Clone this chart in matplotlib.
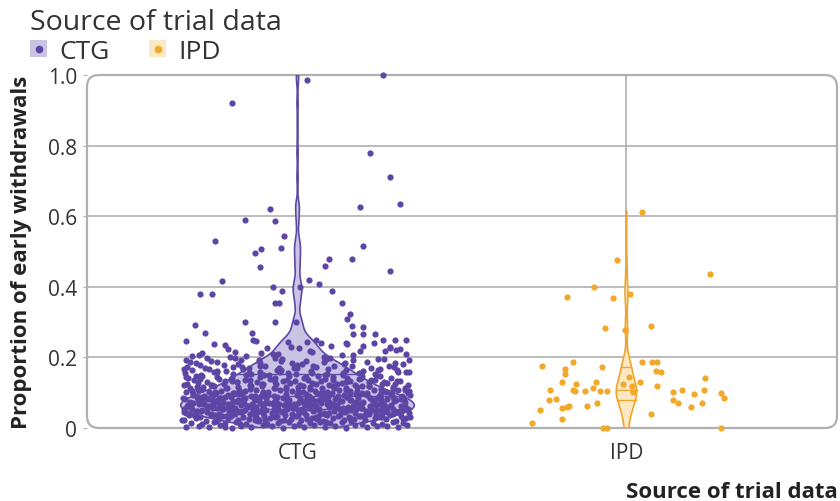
import numpy as np
import matplotlib
matplotlib.use("Agg")
import matplotlib.pyplot as plt
from matplotlib.patches import FancyBboxPatch, Patch
from matplotlib.lines import Line2D
from matplotlib.legend_handler import HandlerTuple

plt.rcParams['font.family'] = ['Open Sans', 'DejaVu Sans']

categories = ['CTG', 'IPD']
title_txt = 'Source of trial data'
ylab = 'Proportion of early withdrawals'

# proportions (x1000), with the horizontal jitter of each dot (x1000)
ctg_y = np.array([
    2, 7, 4, 9, 1, 6, 3, 8, 5, 0, 7, 2, 9, 4, 6, 1, 8, 3, 5, 7, 2, 9, 4,
    14, 11, 18, 13, 16, 10, 19, 12, 15, 17, 11, 14, 18, 13, 16, 19, 10, 15, 12, 17, 14, 11, 18,
    23, 27, 21, 25, 29, 22, 26, 24, 28, 20, 25, 23, 27, 21, 29, 24, 26, 22, 28, 25, 20, 27, 23, 26,
    36, 31, 38, 33, 35, 30, 39, 34, 32, 37, 33, 36, 31, 38, 35, 30, 34, 39, 32, 37, 35, 31, 38, 33, 36,
    42, 47, 44, 40, 49, 45, 41, 48, 43, 46, 40, 44, 47, 42, 49, 45, 43, 48, 41, 46, 44, 42, 47, 49, 43, 45,
    55, 51, 58, 53, 56, 50, 59, 52, 57, 54, 51, 56, 53, 59, 55, 50, 58, 52, 57, 54, 56, 53, 59, 51, 55, 58, 52,
    63, 68, 61, 66, 60, 64, 69, 62, 67, 65, 61, 66, 63, 69, 64, 60, 68, 62, 67, 65, 63, 69, 61, 66, 64, 68,
    74, 71, 78, 73, 76, 70, 79, 72, 75, 77, 71, 74, 78, 73, 76, 79, 70, 75, 72, 77, 74, 78, 71, 76, 73,
    83, 87, 81, 85, 89, 82, 86, 84, 88, 80, 85, 83, 87, 81, 89, 84, 86, 82, 88, 85, 80, 87, 83,
    94, 91, 98, 93, 96, 90, 99, 92, 95, 97, 91, 94, 98, 93, 96, 99, 90, 95, 92, 97, 94, 98,
    103, 108, 101, 106, 100, 104, 109, 102, 107, 105, 101, 106, 103, 109, 104, 100, 108, 102, 107, 105,
    114, 111, 118, 113, 116, 110, 119, 112, 115, 117, 111, 114, 118, 113, 116, 119, 110, 115, 112,
    123, 127, 121, 125, 129, 122, 126, 124, 128, 120, 125, 123, 127, 121, 129, 124, 126, 122,
    136, 131, 138, 133, 135, 130, 139, 134, 132, 137, 133, 136, 131, 138, 135, 130, 134,
    142, 147, 144, 140, 149, 145, 141, 148, 143, 146, 144, 142, 147, 149, 143,
    155, 151, 158, 153, 156, 150, 159, 152, 157, 154, 151, 156, 153, 158,
    163, 168, 161, 166, 160, 164, 169, 162, 167, 165, 161, 166, 163,
    174, 171, 178, 173, 176, 170, 179, 172, 175, 177, 171, 176,
    183, 187, 181, 185, 189, 182, 186, 184, 188, 180,
    194, 191, 198, 193, 196, 190, 199, 192, 195,
    203, 238, 215, 247, 209, 226, 242, 206, 231, 219, 249, 212, 235, 204, 228, 244, 217, 233, 208, 240,
    222, 246, 211, 237, 225, 201, 214, 230,
    # second layer of the crowded region
    24, 37, 21, 33, 39, 31, 22, 35, 38, 25, 32, 36, 27, 34, 30, 39, 26, 22,
    44, 57, 49, 41, 53, 59, 46, 51, 42, 55, 48, 58, 45, 52, 40, 56, 47, 54, 43, 50,
    59, 46, 53, 42, 57, 49, 44, 55, 51, 41, 48, 56, 43, 52, 58,
    66, 78, 61, 73, 69, 75, 63, 79, 71, 67, 60, 76, 64, 72, 68, 77, 62, 74, 70, 65,
    79, 63, 71, 67, 75, 61, 73, 69, 77, 64, 72, 66, 78, 62, 70,
    85, 97, 82, 93, 88, 99, 84, 91, 96, 81, 89, 94, 83, 98, 87, 92, 80, 95, 86, 90,
    97, 82, 93, 88, 84, 99, 91, 86, 95, 81, 89, 94, 83, 98, 87,
    104, 116, 101, 112, 108, 119, 103, 114, 110, 106, 117, 102, 113, 109, 105, 118, 100, 111, 107, 115,
    126, 138, 121, 133, 129, 137, 124, 131, 135, 122, 128, 139, 125, 132, 120, 136, 127, 134,
    146, 158, 141, 153, 149, 157, 144, 151, 155, 142, 148, 159, 145,
    166, 178, 161, 173, 169, 177, 164, 171, 175, 165, 172, 160,
    186, 197, 193, 199, 184, 195, 181, 196, 183, 192,
    207, 224, 213, 229, 202, 218, 226, 210,
    # sparse upper part
    920, 985, 1000, 780, 710, 635, 627, 620, 590, 587, 544, 530, 510, 507, 496, 516, 478, 478, 456, 459,
    444, 416, 419, 407, 399, 387, 399, 387, 380, 380, 353, 353, 353, 322, 308, 293, 300, 300, 299, 288,
    285, 268, 270, 265, 265, 265, 248, 240, 248, 248, 250, 245,
]) / 1000

ctg_jit = np.array([
    -338, -301, -268, -236, -199, -171, -140, -104, -77, -45, -12, 21, 50, 84, 113, 147, 176, 210, 243, 271, 305, 333, -222,
    -325, -290, -255, -222, -186, -158, -121, -93, -60, -27, 4, 38, 69, 100, 134, 163, 197, 229, 258, 290, 322, -175, 88,
    -344, -309, -279, -243, -212, -180, -148, -117, -85, -53, -20, 11, 43, 76, 107, 140, 171, 204, 236, 268, 299, 331, -130, 60,
    -331, -297, -262, -231, -203, -166, -135, -101, -70, -38, -6, 27, 57, 91, 122, 155, 187, 218, 250, 282, 314, 342, -250, -15, 205,
    -340, -306, -274, -240, -209, -176, -144, -111, -79, -48, -16, 16, 48, 79, 111, 144, 176, 208, 240, 272, 306, 338, -192, -62, 95, 256,
    -322, -289, -257, -226, -190, -160, -127, -95, -63, -31, 1, 34, 66, 97, 129, 161, 193, 225, 257, 289, 320, -345, -210, -108, 15, 138, 262,
    -335, -300, -270, -237, -204, -171, -139, -106, -74, -41, -9, 24, 56, 89, 121, 154, 186, 219, 251, 284, 316, -283, -155, -25, 103, 233,
    -328, -293, -260, -228, -195, -163, -130, -98, -65, -33, 0, 32, 65, 97, 130, 163, 195, 228, 260, 293, 328, -244, -115, 14, 178,
    -342, -307, -272, -237, -201, -166, -131, -96, -61, -26, 9, 44, 80, 115, 150, 185, 220, 255, 290, 325, -180, 30, 240,
    -318, -283, -247, -212, -177, -141, -106, -71, -35, 0, 35, 71, 106, 141, 177, 212, 247, 283, 318, -260, -90, 160,
    -339, -303, -268, -232, -196, -160, -125, -89, -53, -17, 18, 54, 90, 126, 161, 197, 233, 268, 304, 340,
    -326, -290, -253, -217, -181, -145, -108, -72, -36, 1, 37, 73, 109, 146, 182, 218, 254, 291, 327,
    -344, -304, -264, -224, -184, -144, -104, -64, -24, 16, 56, 96, 136, 176, 216, 256, 296, 336,
    -315, -276, -238, -199, -161, -122, -84, -45, -7, 32, 70, 109, 147, 186, 224, 263, 301,
    -333, -289, -245, -201, -157, -113, -69, -25, 19, 63, 107, 151, 195, 239, 283,
    -341, -293, -245, -197, -149, -101, -53, -5, 43, 91, 139, 187, 235, 330,
    -322, -270, -218, -166, -114, -62, -10, 42, 94, 146, 198, 250, 302,
    -337, -281, -225, -169, -113, -57, -1, 55, 111, 167, 223, 279,
    -310, -245, -180, -115, -50, 15, 80, 145, 210, 320,
    -340, -262, -190, -118, -46, 26, 98, 170, 262,
    -320, -255, -190, -125, -60, 5, 70, 135, 200, 265, 330, -290, -222, -158, -93, -28, 37, 102, 168, 233,
    298, -340, -75, 150, 312, -205, 45, 280,
    # second layer of the crowded region
    -350, -314, -248, -218, -190, -126, -98, -62, 0, 30, 62, 128, 160, 192, 258, 290, 322, -40,
    -346, -324, -292, -262, -230, -199, -168, -136, -104, -73, -42, -10, 20, 52, 83, 115, 146, 178, 210, 241,
    273, 304, 336, -308, -246, -184, -122, -58, 6, 68, 132, 196, 258, 320, -15,
    -333, -302, -275, -244, -212, -180, -150, -118, -86, -55, -24, 8, 40, 72, 104, 136, 168, 200, 232, 263,
    296, 327, -318, -258, -196, -134, -72, -10, 52, 114, 176, 238, 300, -230, 20,
    -348, -318, -288, -256, -222, -193, -159, -129, -97, -64, -34, -2, 30, 60, 92, 124, 158, 188, 219, 252,
    284, 314, 343, -300, -235, -170, -110, -45, 25, 85, 150, 212, 272, 335, -130,
    -322, -286, -250, -214, -178, -142, -106, -70, -34, 2, 38, 74, 110, 146, 182, 218, 254, 290, 326, -305,
    -336, -298, -260, -222, -184, -146, -108, -70, -32, 6, 44, 82, 120, 158, 196, 234, 272, 310,
    -310, -254, -198, -142, -86, -30, 26, 82, 138, 194, 250, 306, -338,
    -344, -295, -246, -197, -148, -99, -50, -1, 48, 244, 293, 338,
    -328, -276, -172, -68, -16, 88, 140, 244, 296, 340,
    -300, -210, -110, -20, 80, 190, 280, 330,
    # sparse upper part
    -200, 30, 260, 220, 280, 310, 190, -85, -160, -67, -40, -250, -50, -110, -130, 200, 95, 165, -115, 85,
    280, -230, 36, 64, -76, -46, 6, 106, -295, -260, -70, -55, 134, 158, 149, -313, -160, -67, -5, 167,
    200, -280, -137, 170, 200, 235, -134, 148, 260, 295, 55, 30,
]) / 1000

ipd_y = np.array([
    613, 476, 436, 400, 370, 368, 379, 282, 279, 288,
    177, 188, 168, 154, 174, 188, 188, 188, 162, 160,
    142, 131, 125, 131, 114, 108, 105, 105, 105, 105,
    131, 120, 103, 108, 80, 83, 71, 63, 51, 57,
    60, 63, 14, 26, 0, 0, 40, 103, 108, 97,
    108, 80, 71, 60, 71, 100, 85, 0, 145, 125, 118,
]) / 1000

ipd_jit = np.array([
    46, -28, 255, -100, -180, -40, 12, -64, -6, 76,
    -258, -164, -186, -186, -73, 46, 79, 94, 91, 106,
    240, -195, -152, -94, -103, -164, -158, -125, -79, -60,
    40, 94, 21, -234, -237, -213, -90, -120, -264, -197,
    -180, -175, -286, -197, -72, -60, 76, 140, 170, 204,
    237, 140, 158, 195, 231, 286, 295, 286, 8, -12, 16,
]) / 1000

assert len(ctg_y) == len(ctg_jit) and len(ipd_y) == len(ipd_jit)

pt_col = ['#5D45A6', '#F2A829']
fill_col = ['#CAC4E4', '#FDE8C4']
line_col = ['#5E48A6', '#F0A52A']
grid_col = '#B0B0B0'


def kde(vals, grid):
    n = len(vals)
    q1, q3 = np.percentile(vals, [25, 75])
    bw = 0.9 * min(vals.std(ddof=1), (q3 - q1) / 1.34) * n ** -0.2
    z = (grid[:, None] - vals[None, :]) / bw
    return np.exp(-0.5 * z ** 2).sum(1) / (n * bw * np.sqrt(2 * np.pi))


fig = plt.figure(figsize=(8.4, 5.02), dpi=100)
ax = fig.add_axes([87 / 840, 1 - 429 / 502, 750 / 840, 353 / 502])
ax.set_xlim(-0.64, 1.64)
ax.set_ylim(0, 1)
for s in ax.spines.values():
    s.set_visible(False)

# panel frame with rounded corners
frame = FancyBboxPatch((0, 0), 1, 1, boxstyle='round,pad=0,rounding_size=0.016',
                       transform=ax.transAxes, mutation_aspect=750 / 353,
                       facecolor='none', edgecolor=grid_col, lw=1.6, zorder=1, clip_on=False)
ax.add_patch(frame)
for yv in [0.2, 0.4, 0.6, 0.8]:
    ax.axhline(yv, color=grid_col, lw=1.2, zorder=1)
for xv in [0, 1]:
    ax.axvline(xv, color=grid_col, lw=1.2, zorder=1)

groups = [(ctg_y, ctg_jit), (ipd_y, ipd_jit)]
dens = []
for vals, jit in groups:
    g = np.linspace(vals.min(), vals.max(), 512)
    dens.append((g, kde(vals, g) * len(vals)))
scale = 0.355 / max(d.max() for _, d in dens)

for i, ((vals, jit), (g, d)) in enumerate(zip(groups, dens)):
    half = d * scale
    xs = np.concatenate([i - half, (i + half)[::-1]])
    ys = np.concatenate([g, g[::-1]])
    ax.fill(xs, ys, color=fill_col[i], lw=0, zorder=2)
    ax.scatter(i + jit, vals, s=20, color=pt_col[i], lw=0, zorder=3, clip_on=False)
    ax.plot(np.append(xs, xs[0]), np.append(ys, ys[0]), color=line_col[i], lw=1.2, zorder=4)
    for q in np.percentile(vals, [25, 50, 75]):
        h = np.interp(q, g, half)
        ax.plot([i - h, i + h], [q, q], color=line_col[i], lw=1.0, zorder=4)

ax.set_xticks([0, 1])
ax.set_xticklabels(categories, fontsize=15, color='#333333')
ax.set_yticks([0, 0.2, 0.4, 0.6, 0.8, 1.0])
ax.set_yticklabels(['0', '0.2', '0.4', '0.6', '0.8', '1.0'], fontsize=15, color='#333333')
ax.tick_params(axis='y', length=3, color=grid_col, pad=4)
ax.tick_params(axis='x', length=0, pad=10)

fig.text(22 / 840, 1 - 252 / 502, ylab, rotation=90, ha='center', va='center',
         fontsize=16, fontweight='bold', color='#222222')
fig.text(838 / 840, 1 - 493 / 502, title_txt, ha='right', va='center',
         fontsize=16, fontweight='bold', color='#222222')

handles = [(Patch(facecolor=fill_col[i], edgecolor='none'),
            Line2D([], [], marker='o', ls='none', color=pt_col[i], markersize=4.5))
           for i in range(2)]
leg = fig.legend(handles, categories, title=title_txt, loc='upper left',
                 bbox_to_anchor=(30 / 840, 1 - 9 / 502), ncol=2, frameon=False,
                 fontsize=19, title_fontsize=20.5, handlelength=0.65, handleheight=0.65,
                 handletextpad=0.45, columnspacing=1.5, labelspacing=0.1,
                 borderpad=0, borderaxespad=0, alignment='left',
                 handler_map={tuple: HandlerTuple(ndivide=1, pad=0)})
for t in leg.get_texts():
    t.set_color('#333333')
leg.get_title().set_color('#333333')

fig.savefig('out.png', dpi=100)
